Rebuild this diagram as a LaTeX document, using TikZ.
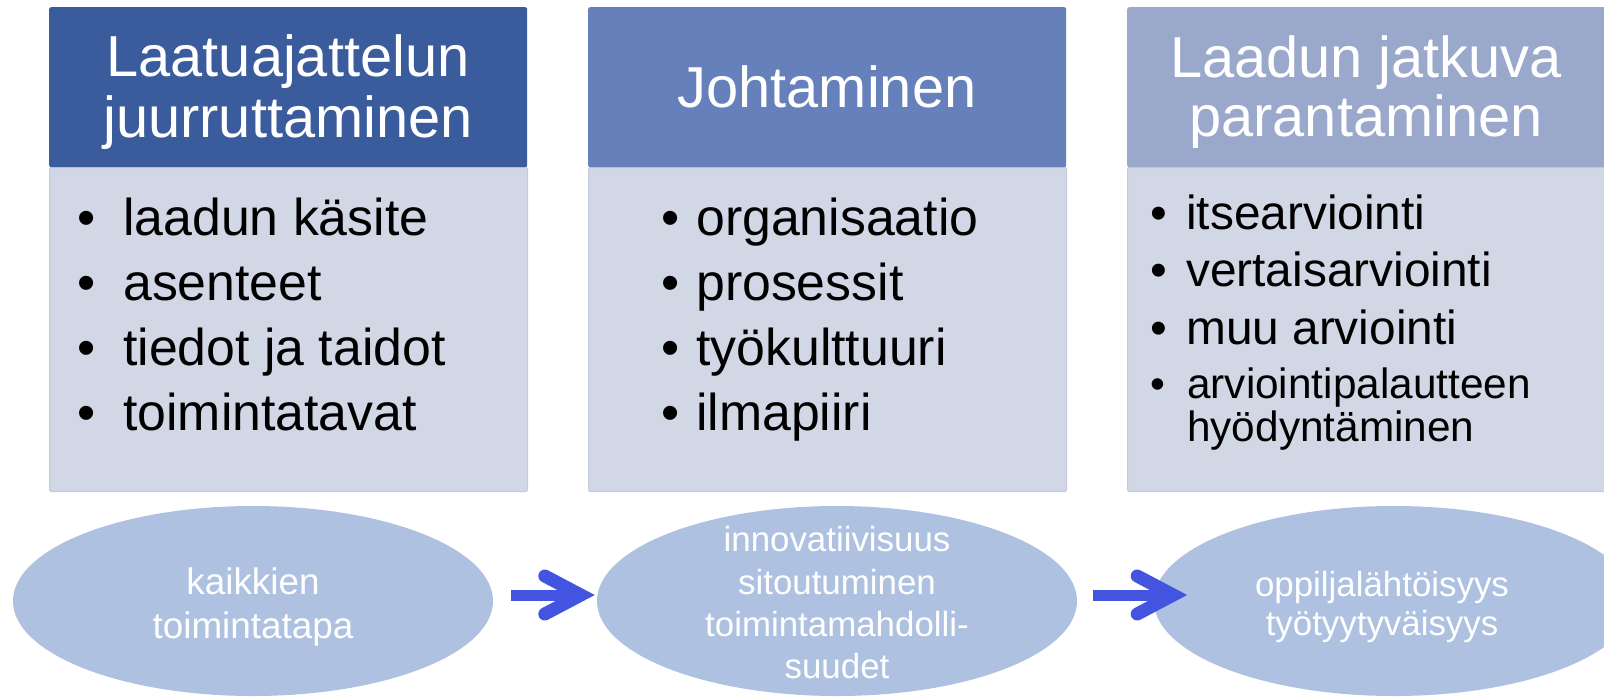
\documentclass[tikz,border=0pt]{standalone}
\usepackage{fontspec}
\setmainfont{Liberation Sans}
\usetikzlibrary{shapes.geometric,calc}
\definecolor{hA}{RGB}{58,92,156}
\definecolor{hB}{RGB}{102,128,187}
\definecolor{hC}{RGB}{154,168,203}
\definecolor{bodyc}{RGB}{210,215,229}
\definecolor{bodyedge}{RGB}{196,202,220}
\definecolor{ellc}{RGB}{174,193,224}
\definecolor{arrc}{RGB}{66,84,224}
\begin{document}
\begin{tikzpicture}[x=1bp,y=-1bp,
  hdrbox/.style={rectangle, rounded corners=2bp, minimum width=478bp, minimum height=160bp, inner sep=0, anchor=north west},
  bodybox/.style={rectangle, rounded corners=2bp, fill=bodyc, draw=bodyedge, line width=1bp, minimum width=478bp, minimum height=324bp, inner sep=0, anchor=north west},
  htxt/.style={text=white, font=\fontsize{58}{61}\selectfont, anchor=base, inner sep=0},
  btxt/.style={text=black, font=\fontsize{52}{62}\selectfont, anchor=base west, inner sep=0},
  bdot/.style={text=black, font=\fontsize{52}{62}\selectfont, anchor=base, inner sep=0},
  ctxt/.style={text=black, font=\fontsize{48}{57}\selectfont, anchor=base west, inner sep=0},
  cdot/.style={text=black, font=\fontsize{48}{57}\selectfont, anchor=base, inner sep=0},
  dtxt/.style={text=black, font=\fontsize{42.5}{45}\selectfont, anchor=base west, inner sep=0},
  ddot/.style={text=black, font=\fontsize{42.5}{45}\selectfont, anchor=base, inner sep=0},
  oval/.style={ellipse, fill=ellc, minimum width=480bp, minimum height=190bp, inner sep=0},
  otxt/.style={text=white, align=center, inner sep=0},
  arrshaft/.style={draw=arrc, line width=11bp},
  arrhead/.style={draw=arrc, line width=13bp, line cap=round, line join=miter}
]
\useasboundingbox (0,0) rectangle (1604,698);
\clip (0,0) rectangle (1604,698);
\fill[white] (0,0) rectangle (1604,698);

% column boxes
\node[bodybox] (b1) at (49,167) {};
\node[bodybox] (b2) at (588,167) {};
\node[bodybox] (b3) at (1127,167) {};
\node[hdrbox, fill=hA] (h1) at (49,7) {};
\node[hdrbox, fill=hB] (h2) at (588,7) {};
\node[hdrbox, fill=hC] (h3) at (1127,7) {};

% header texts
\node[htxt] (h1a) at (288,77) {Laatuajattelun};
\node[htxt] (h1b) at (288,138) {juurruttaminen};
\node[htxt] (h2a) at (827,108) {Johtaminen};
\node[htxt] (h3a) at (1366,78) {Laadun jatkuva};
\node[htxt] (h3b) at (1366,137) {parantaminen};

% column 1 items
\node[bdot] (d11) at (87,235) {•};
\node[btxt] (t11) at (123,235) {laadun käsite};
\node[bdot] (d12) at (87,300) {•};
\node[btxt] (t12) at (123,300) {asenteet};
\node[bdot] (d13) at (87,365) {•};
\node[btxt] (t13) at (123,365) {tiedot ja taidot};
\node[bdot] (d14) at (87,430) {•};
\node[btxt] (t14) at (123,430) {toimintatavat};

% column 2 items
\node[bdot] (d21) at (671,235) {•};
\node[btxt] (t21) at (696,235) {organisaatio};
\node[bdot] (d22) at (671,300) {•};
\node[btxt] (t22) at (696,300) {prosessit};
\node[bdot] (d23) at (671,365) {•};
\node[btxt] (t23) at (696,365) {työkulttuuri};
\node[bdot] (d24) at (671,430) {•};
\node[btxt] (t24) at (696,430) {ilmapiiri};

% column 3 items
\node[cdot] (d31) at (1159,229) {•};
\node[ctxt] (t31) at (1186,229) {itsearviointi};
\node[cdot] (d32) at (1159,286) {•};
\node[ctxt] (t32) at (1186,286) {vertaisarviointi};
\node[cdot] (d33) at (1159,344) {•};
\node[ctxt] (t33) at (1186,344) {muu arviointi};
\node[ddot] (d34) at (1158,398) {•};
\node[dtxt] (t34) at (1187,398) {arviointipalautteen};
\node[dtxt] (t35) at (1187,441) {hyödyntäminen};

% ovals
\node[oval] (e1) at (253,601) {};
\node[oval] (e2) at (837,601) {};
\node[oval] (e3) at (1394,601) {};
\node[otxt, font=\fontsize{37}{45}\selectfont] (e1t) at ($(e1.center)+(0,6)$) {kaikkien\\toimintatapa};
\node[otxt, font=\fontsize{35}{42.5}\selectfont] (e2t) at ($(e2.center)+(0,2)$) {innovatiivisuus\\sitoutuminen\\toimintamahdolli-\\suudet};
\node[otxt, font=\fontsize{35}{40}\selectfont] (e3t) at ($(e3.center)+(-12,6)$) {oppiljalähtöisyys\\työtyytyväisyys};

% arrows
\draw[arrshaft] ($(e1.east)+(18,-6)$) -- ($(e2.west)+(-20,-6)$);
\draw[arrhead] ($(e2.west)+(-52,-25)$) -- ($(e2.west)+(-16,-6)$) -- ($(e2.west)+(-52,13)$);
\draw[arrshaft] ($(e2.east)+(16,-6)$) -- ($(e2.east)+(92,-6)$);
\draw[arrhead] ($(e2.east)+(60,-25)$) -- ($(e2.east)+(96,-6)$) -- ($(e2.east)+(60,13)$);
\end{tikzpicture}
\end{document}
